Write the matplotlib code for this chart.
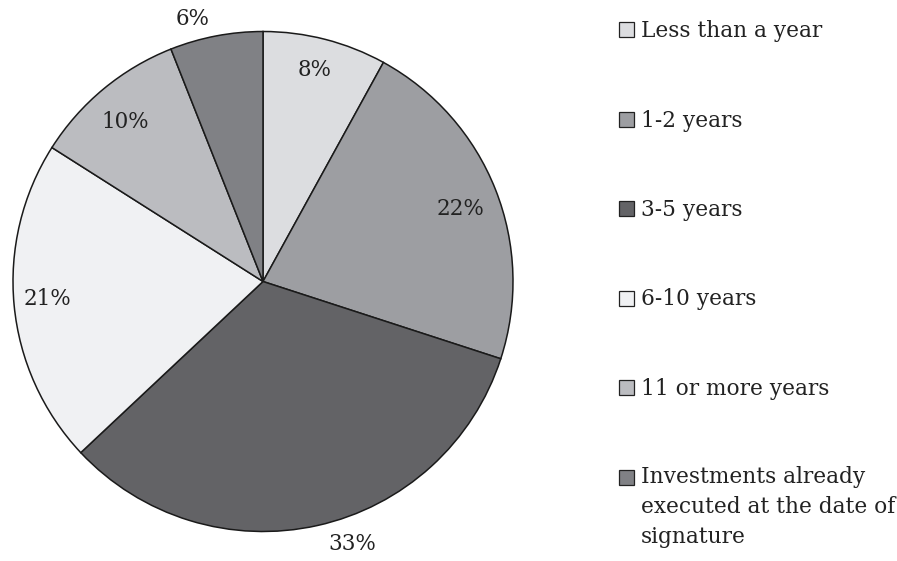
import numpy as np
import matplotlib
matplotlib.use('Agg')
from matplotlib import pyplot as plt
from matplotlib.patches import Rectangle

# data
categories = ['Less than a year', '1-2 years', '3-5 years', '6-10 years',
              '11 or more years',
              'Investments already\nexecuted at the date of\nsignature']
shares = [8, 22, 33, 21, 10, 6]
colors = ['#dcdde0', '#9d9ea2', '#636366', '#f0f1f3', '#bbbcc0', '#808185']

# label placement: distance (fraction of radius) and clockwise angle shift (deg)
label_r = [0.87, 0.84, 1.11, 0.867, 0.844, 1.087]
label_shift = [-0.8, 1.4, -6.1, 0.8, -1.3, -4.1]

plt.rcParams['font.family'] = 'DejaVu Serif'

W, H = 897, 561
fig = plt.figure(figsize=(W / 100, H / 100), dpi=100)

# pie: centre (263, 281), radius 250 px
ax = fig.add_axes([13 / W, (H - 532) / H, 500 / W, 501 / H])
wedges, _ = ax.pie(shares, colors=colors, startangle=90, counterclock=False,
                   wedgeprops=dict(edgecolor='#1a1a1a', linewidth=1.1))
ax.set_xlim(-1, 1)
ax.set_ylim(-1, 1)
ax.set_aspect('equal')

for w, v, r, s in zip(wedges, shares, label_r, label_shift):
    ang = np.deg2rad((w.theta1 + w.theta2) / 2 - s)
    ax.text(r * np.cos(ang), r * np.sin(ang), f'{v}%', ha='center', va='center',
            fontsize=15.5, color='#222222')

# legend drawn by hand
x_box, x_txt = 619, 641
y0, step, line_h = 37, 89.5, 29
for i, (lab, col) in enumerate(zip(categories, colors)):
    yb = y0 + i * step
    fig.add_artist(Rectangle(((x_box) / W, (H - yb) / H), 15 / W, 15 / H,
                             transform=fig.transFigure, facecolor=col,
                             edgecolor='#222222', linewidth=0.9))
    # baseline of a multi-line text is the last line
    yt = yb + lab.count('\n') * line_h
    fig.text(x_txt / W, (H - yt) / H, lab, ha='left', va='baseline',
             fontsize=15.6, color='#222222', linespacing=1.45)

fig.savefig('out.png', dpi=100, facecolor='white')
